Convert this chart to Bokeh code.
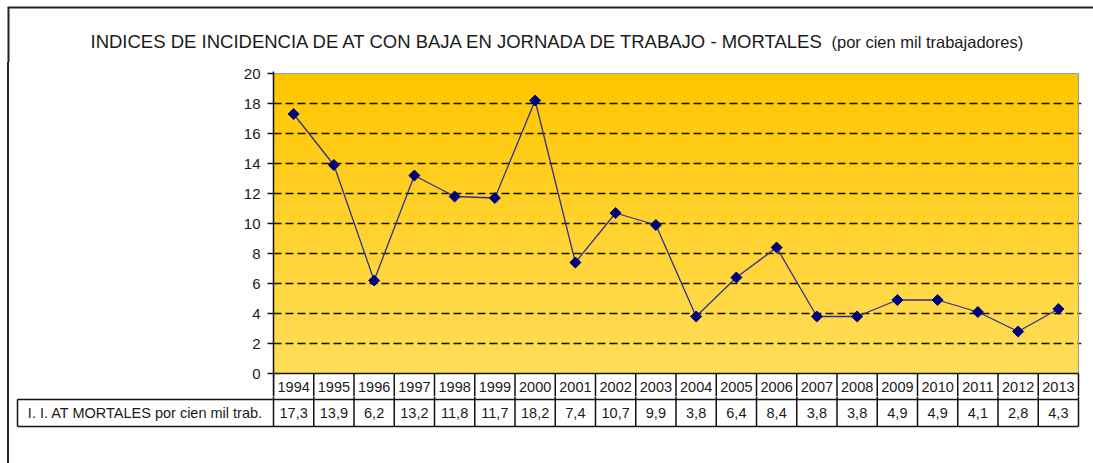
import numpy as np
from bokeh.plotting import figure
from bokeh.models import Range1d, FixedTicker, GlobalInlineStyleSheet
from bokeh.embed import file_html
from bokeh.resources import INLINE
from bokeh.core.properties import value

# ---------------- data ----------------
YEARS = ["1994", "1995", "1996", "1997", "1998", "1999", "2000", "2001", "2002", "2003",
         "2004", "2005", "2006", "2007", "2008", "2009", "2010", "2011", "2012", "2013"]
VALUES = [17.3, 13.9, 6.2, 13.2, 11.8, 11.7, 18.2, 7.4, 10.7, 9.9,
          3.8, 6.4, 8.4, 3.8, 3.8, 4.9, 4.9, 4.1, 2.8, 4.3]
VALUE_LABELS = [f"{v:.1f}".replace(".", ",") for v in VALUES]
ROW_LABEL = "I. I. AT MORTALES por cien mil trab."
TITLE_MAIN = "INDICES DE INCIDENCIA DE AT CON BAJA EN JORNADA DE TRABAJO - MORTALES"
TITLE_SUB = "(por cien mil trabajadores)"
Y_TICKS = [0, 2, 4, 6, 8, 10, 12, 14, 16, 18, 20]
GRID_TICKS = [2, 4, 6, 8, 10, 12, 14, 16, 18]
Y_MAX = 20

# ---------------- layout constants (page pixels) ----------------
FONT = "Liberation Sans"
INK = "#1a1a1a"
LINE = "#111111"
BORDER = "#222222"
PAGE_W = 1093
X0 = 9                 # canvas left of chart/table (after 7px margin + 2px border)
W = PAGE_W - X0
COL_PX = 40.25         # width of one year column
PX_UNIT = 15.0         # pixels per y unit
FRAME_L, FRAME_R = 273, 1081
TABLE_L = 17
n = len(YEARS)
xs = np.arange(n)
side = {"margin-left": "7px", "border-left": "2px solid " + BORDER}
page_css = GlobalInlineStyleSheet(css="html, body { overflow: hidden; }")

# ---------------- title strip (with the outer border's top-left corner) ----------------
T_BOT = 62
pT = figure(width=PAGE_W, height=T_BOT, x_range=Range1d(0, PAGE_W),
            y_range=Range1d(T_BOT, 0), output_backend="svg",
            toolbar_location=None, title=None, x_axis_location=None,
            y_axis_location=None, min_border=0, outline_line_color=None,
            background_fill_color="white", border_fill_color="white")
pT.grid.visible = False
pT.stylesheets = [page_css]
pT.segment(x0=[7, 8], y0=[7, 7], x1=[PAGE_W + 5, 8], y1=[7, T_BOT + 5],
           line_color=BORDER, line_width=2)
pT.text(x=[826], y=[41], text=[TITLE_MAIN], text_align="right",
        text_baseline="middle", text_font=value(FONT), text_font_size="18.5px",
        text_color=INK)
pT.text(x=[831], y=[41], text=[TITLE_SUB], text_align="left",
        text_baseline="middle", text_font=value(FONT), text_font_size="16.5px",
        text_color=INK)

# ---------------- chart + year row ----------------
A_BOT = 396
x_end = n - 0.5 + (FRAME_R - 1078) / COL_PX
y_top = Y_MAX + (73 - 71) / PX_UNIT
y_bot = -(A_BOT - 373) / PX_UNIT

pA = figure(width=W, height=A_BOT - T_BOT, x_range=Range1d(-0.5, x_end),
            y_range=Range1d(y_bot, y_top), output_backend="svg",
            toolbar_location=None, title=None, x_axis_location=None,
            min_border_left=FRAME_L - X0, min_border_right=X0 + W - FRAME_R,
            min_border_top=71 - T_BOT, min_border_bottom=0, outline_line_color=None,
            background_fill_color="white", border_fill_color="white")
pA.styles = dict(side)

# gradient background of the plot area
ny = 200
t = np.linspace(0, 1, ny)[:, None] * np.ones((1, 2))
img = np.empty((ny, 2), dtype=np.uint32)
view = img.view(dtype=np.uint8).reshape((ny, 2, 4))
c_bot = np.array([255, 222, 90])
c_top = np.array([255, 198, 0])
for k in range(3):
    view[:, :, k] = (c_bot[k] + (c_top[k] - c_bot[k]) * t).astype(np.uint8)
view[:, :, 3] = 255
pA.image_rgba(image=[img], x=-0.5, y=0, dw=n, dh=Y_MAX, level="image")

yax = pA.yaxis[0]
yax.ticker = FixedTicker(ticks=Y_TICKS)
yax.minor_tick_line_color = None
yax.major_tick_in = 0
yax.major_tick_out = 6
yax.major_tick_line_color = LINE
yax.major_tick_line_width = 1.3
yax.axis_line_color = LINE
yax.axis_line_width = 1.5
yax.major_label_text_font = FONT
yax.major_label_text_font_size = "15px"
yax.major_label_text_color = INK
yax.major_label_standoff = 7

pA.xgrid.visible = False
pA.ygrid.ticker = FixedTicker(ticks=GRID_TICKS)
pA.ygrid.grid_line_color = LINE
pA.ygrid.grid_line_dash = "8 4"
pA.ygrid.grid_line_width = 1.4

# grey top/right edges of the plot area
pA.segment(x0=[-0.5, n - 0.5], y0=[Y_MAX, 0], x1=[n - 0.5, n - 0.5], y1=[Y_MAX, Y_MAX],
           line_color="#9c9c9c", line_width=1.2)

# year row of the table
bounds = [k - 0.5 for k in range(n + 1)]
pA.segment(x0=[-0.5], y0=[0], x1=[n - 0.5], y1=[0], line_color=LINE, line_width=1.5)
pA.segment(x0=bounds, y0=[0] * len(bounds), x1=bounds, y1=[y_bot - 1] * len(bounds),
           line_color=LINE, line_width=1.5)
pA.text(x=xs, y=[-(399 - 373) / PX_UNIT / 2] * n, text=YEARS, text_align="center",
        text_baseline="middle", text_font=value(FONT), text_font_size="14.5px",
        text_color=INK)

# data series
pA.line(xs, VALUES, line_color="#30308f", line_width=1.3)
pA.scatter(xs, VALUES, marker="square", angle=np.pi / 4, size=7.8,
           fill_color="#00007a", line_color="#00007a")

# ---------------- value row of the table ----------------
B_BOT = 463
ROW_PX = 27            # value row height (399..426)
label_left = -0.5 - (FRAME_L - TABLE_L) / COL_PX
pB = figure(width=W, height=B_BOT - A_BOT,
            x_range=Range1d(label_left - 3 / COL_PX, x_end),
            y_range=Range1d(-(ROW_PX + 3) / ROW_PX, 3 / ROW_PX),
            output_backend="svg", toolbar_location=None, title=None,
            x_axis_location=None, y_axis_location=None,
            min_border_left=TABLE_L - 3 - X0, min_border_right=X0 + W - FRAME_R,
            min_border_top=0, min_border_bottom=B_BOT - 429, outline_line_color=None,
            background_fill_color="white", border_fill_color="white")
pB.grid.visible = False
pB.styles = dict(side)

vb = [label_left] + bounds
pB.segment(x0=[label_left, label_left], y0=[0, -1], x1=[n - 0.5, n - 0.5], y1=[0, -1],
           line_color=LINE, line_width=1.5)
pB.segment(x0=vb, y0=[-1] * len(vb), x1=vb, y1=[0] * len(vb),
           line_color=LINE, line_width=1.5)
pB.segment(x0=bounds, y0=[0] * len(bounds), x1=bounds, y1=[1] * len(bounds),
           line_color=LINE, line_width=1.5)
pB.text(x=xs, y=[-0.5] * n, text=VALUE_LABELS, text_align="center",
        text_baseline="middle", text_font=value(FONT), text_font_size="14.5px",
        text_color=INK)
pB.text(x=[(label_left - 0.5) / 2], y=[-0.5], text=[ROW_LABEL], text_align="center",
        text_baseline="middle", text_font=value(FONT), text_font_size="14.5px",
        text_color=INK)

open("out.html", "w").write(file_html([pT, pA, pB], INLINE))
